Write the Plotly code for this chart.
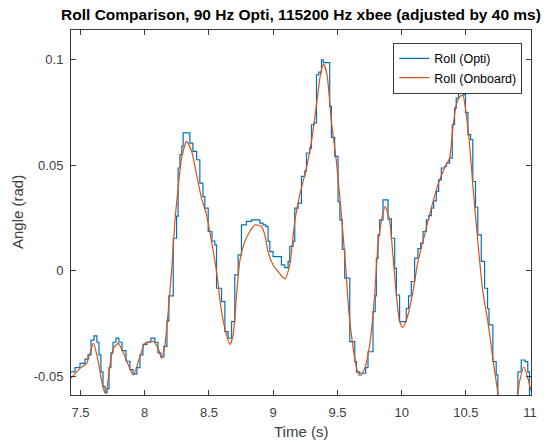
import plotly.graph_objects as go

# ---- data ----
onboard_t = [7.426, 7.496, 7.548, 7.600, 7.638, 7.677, 7.698, 7.729, 7.755, 7.794,
             7.846, 7.911, 7.963, 8.002, 8.066, 8.105, 8.131, 8.157, 8.183, 8.209,
             8.235, 8.260, 8.287, 8.326, 8.365, 8.404, 8.442, 8.481, 8.520, 8.559,
             8.598, 8.637, 8.663, 8.688, 8.715, 8.740, 8.779, 8.818, 8.857, 8.909,
             8.935, 8.960, 8.999, 9.038, 9.090, 9.129, 9.168, 9.207, 9.259, 9.298,
             9.337, 9.368, 9.393, 9.419, 9.453, 9.492, 9.531, 9.565, 9.588, 9.609,
             9.635, 9.660, 9.679, 9.712, 9.751, 9.790, 9.816, 9.842, 9.873, 9.907,
             9.932, 9.959, 9.984, 10.010, 10.049, 10.088, 10.127, 10.179, 10.231, 10.282,
             10.334, 10.373, 10.399, 10.425, 10.456, 10.477, 10.503, 10.529, 10.554, 10.593,
             10.632, 10.671, 10.710, 10.736, 10.757, 10.80, 10.85, 10.897, 10.918, 10.951,
             10.982, 11.007]
onboard_v = [-0.0511, -0.0464, -0.0440, -0.0345, -0.0430, -0.0560, -0.0580, -0.0448, -0.0370, -0.0345,
             -0.0407, -0.0495, -0.0407, -0.0345, -0.0336, -0.0370, -0.0416, -0.0353, -0.0193, -0.0003,
             0.0234, 0.0390, 0.0533, 0.0612, 0.0565, 0.0454, 0.0343, 0.0264, 0.0138, -0.0005,
             -0.0195, -0.0306, -0.0350, -0.0306, -0.0116, 0.0043, 0.0138, 0.0185, 0.0216, 0.0209,
             0.0169, 0.0090, 0.0027, -0.0005, -0.0040, 0.0027, 0.0233, 0.0359, 0.0486, 0.0612,
             0.0786, 0.0928, 0.0979, 0.0928, 0.0707, 0.0517, 0.0264, 0.0010, -0.0190, -0.0306,
             -0.0416, -0.0487, -0.0498, -0.0464, -0.0353, -0.0116, 0.0122, 0.0233, 0.0304, 0.0233,
             0.0074, -0.0116, -0.0242, -0.0270, -0.0211, -0.0100, 0.0043, 0.0169, 0.0296, 0.0406,
             0.0486, 0.0533, 0.0675, 0.0786, 0.0826, 0.0829, 0.0739, 0.0596, 0.0406, 0.0138,
             -0.0100, -0.0242, -0.0416, -0.0527, -0.0606, -0.0720, -0.0740, -0.0606, -0.0527, -0.0456,
             -0.0510, -0.0570]

opti_t = [7.426, 7.457, 7.496, 7.535, 7.558, 7.582, 7.605, 7.628, 7.644, 7.659,
          7.675, 7.691, 7.706, 7.722, 7.737, 7.753, 7.776, 7.799, 7.823, 7.854,
          7.885, 7.908, 7.939, 7.963, 7.986, 8.017, 8.048, 8.079, 8.103, 8.126,
          8.149, 8.173, 8.188, 8.222, 8.248, 8.260, 8.274, 8.289, 8.299, 8.351,
          8.375, 8.404, 8.429, 8.453, 8.468, 8.494, 8.523, 8.546, 8.559, 8.598,
          8.624, 8.649, 8.676, 8.701, 8.727, 8.753, 8.792, 8.831, 8.896, 8.921,
          8.942, 8.960, 8.974, 8.999, 9.064, 9.090, 9.116, 9.129, 9.155, 9.168,
          9.194, 9.220, 9.246, 9.259, 9.285, 9.298, 9.320, 9.337, 9.355, 9.376,
          9.390, 9.440, 9.453, 9.479, 9.505, 9.519, 9.538, 9.557, 9.596, 9.635,
          9.648, 9.673, 9.720, 9.738, 9.777, 9.794, 9.803, 9.816, 9.829, 9.855,
          9.894, 9.920, 9.946, 9.959, 9.984, 10.036, 10.054, 10.075, 10.101, 10.127,
          10.148, 10.167, 10.192, 10.210, 10.231, 10.249, 10.270, 10.288, 10.309, 10.334,
          10.349, 10.373, 10.394, 10.412, 10.425, 10.443, 10.466, 10.478, 10.497, 10.516,
          10.537, 10.554, 10.575, 10.593, 10.620, 10.646, 10.669, 10.680, 10.710, 10.736,
          10.749, 10.887, 10.905, 10.931, 10.960, 10.982, 10.995, 11.007]
opti_v = [-0.048, -0.046, -0.044, -0.042, -0.040, -0.033, -0.031, -0.034, -0.040, -0.048,
          -0.055, -0.058, -0.056, -0.046, -0.039, -0.034, -0.032, -0.034, -0.038, -0.043,
          -0.047, -0.049, -0.046, -0.040, -0.035, -0.034, -0.032, -0.034, -0.039, -0.041,
          -0.036, -0.024, -0.012, 0.0153, 0.0258, 0.0486, 0.0549, 0.0590, 0.0652, 0.0604,
          0.0565, 0.0525, 0.0414, 0.0350, 0.0296, 0.0185, 0.0140, 0.0122, -0.0084, -0.0147,
          -0.0290, -0.0321, -0.0242, -0.0021, 0.0074, 0.0216, 0.0233, 0.0240, 0.0225, 0.0216,
          0.0209, 0.0138, 0.0090, 0.0066, 0.0027, 0.0014, 0.0043, 0.0114, 0.0138, 0.0296,
          0.0319, 0.0446, 0.0471, 0.0557, 0.0580, 0.0691, 0.0700, 0.0928, 0.0940, 0.0999,
          0.0985, 0.0778, 0.0631, 0.0541, 0.0327, 0.0240, 0.0100, -0.0036, -0.0337, -0.0432,
          -0.0480, -0.0487, -0.0460, -0.0385, -0.0195, -0.0120, 0.0058, 0.0169, 0.0240, 0.0335,
          0.0245, 0.0153, 0.0010, -0.0116, -0.0242, -0.0180, -0.0120, -0.0052, 0.0059, 0.0104,
          0.0130, 0.0185, 0.0240, 0.0260, 0.0296, 0.0330, 0.0375, 0.0430, 0.0486, 0.0493,
          0.0509, 0.0533, 0.0691, 0.0770, 0.0817, 0.0840, 0.0889, 0.0834, 0.0750, 0.0644,
          0.0620, 0.0422, 0.0300, 0.0169, 0.0043, -0.0084, -0.0180, -0.0258, -0.0432, -0.0495,
          -0.0700, -0.0600, -0.0480, -0.0424, -0.0432, -0.0480, -0.0700, -0.0700]

x_ticks = [7.5, 8, 8.5, 9, 9.5, 10, 10.5, 11]
x_tick_labels = ["7.5", "8", "8.5", "9", "9.5", "10", "10.5", "11"]
y_ticks = [-0.05, 0, 0.05, 0.1]
y_tick_labels = ["-0.05", "0", "0.05", "0.1"]

title_text = "Roll Comparison, 90 Hz Opti, 115200 Hz xbee (adjusted by 40 ms)"

FONT = "Liberation Sans, Arial, Helvetica, sans-serif"
AX = "#3a3a3a"

fig = go.Figure()
fig.add_trace(go.Scatter(x=opti_t, y=opti_v, mode="lines", name="Roll (Opti)",
                         line=dict(color="#0072BD", width=1.2, shape="hv")))
fig.add_trace(go.Scatter(x=onboard_t, y=onboard_v, mode="lines", name="Roll (Onboard)",
                         line=dict(color="#D95319", width=1.2, shape="spline", smoothing=0.6)))

axis_common = dict(showline=True, linecolor=AX, linewidth=1, mirror="ticks",
                   ticks="inside", ticklen=5, tickcolor=AX, tickwidth=1,
                   showgrid=False, zeroline=False,
                   tickfont=dict(family=FONT, size=13, color="#404040"))

# plot area in pixels: left 71, right 531, top 30, bottom 395
fig.update_layout(
    width=558, height=443,
    margin=dict(l=71, r=27, t=30, b=48),
    paper_bgcolor="white", plot_bgcolor="white",
    title=dict(text=title_text, x=0.5, xref="paper", y=1 - 15 / 443, yref="container",
               xanchor="center", yanchor="middle",
               font=dict(family=FONT, size=15.5, color="#000000", weight="bold")),
    xaxis=dict(range=[7.426, 11.007], tickvals=x_ticks, ticktext=x_tick_labels,
               ticklabelstandoff=5, **axis_common),
    yaxis=dict(range=[-0.059, 0.114], tickvals=y_ticks, ticktext=y_tick_labels,
               ticklabelstandoff=4, **axis_common),
    showlegend=True,
    legend=dict(x=0.981, y=0.965, xanchor="right", yanchor="top",
                bgcolor="white", bordercolor=AX, borderwidth=1,
                font=dict(family=FONT, size=12.5, color="#000000"),
                tracegroupgap=0, itemwidth=30),
    annotations=[
        dict(text="Time (s)", x=0.5, xref="paper", y=-(432 - 395) / 365, yref="paper",
             showarrow=False, xanchor="center", yanchor="middle",
             font=dict(family=FONT, size=15, color="#404040")),
        dict(text="Angle (rad)", x=-(71 - 18) / 460, xref="paper", y=1 - (212 - 30) / 365,
             yref="paper", showarrow=False, xanchor="center", yanchor="middle",
             textangle=-90, font=dict(family=FONT, size=15, color="#404040")),
    ],
)

fig.write_html("out.html")
